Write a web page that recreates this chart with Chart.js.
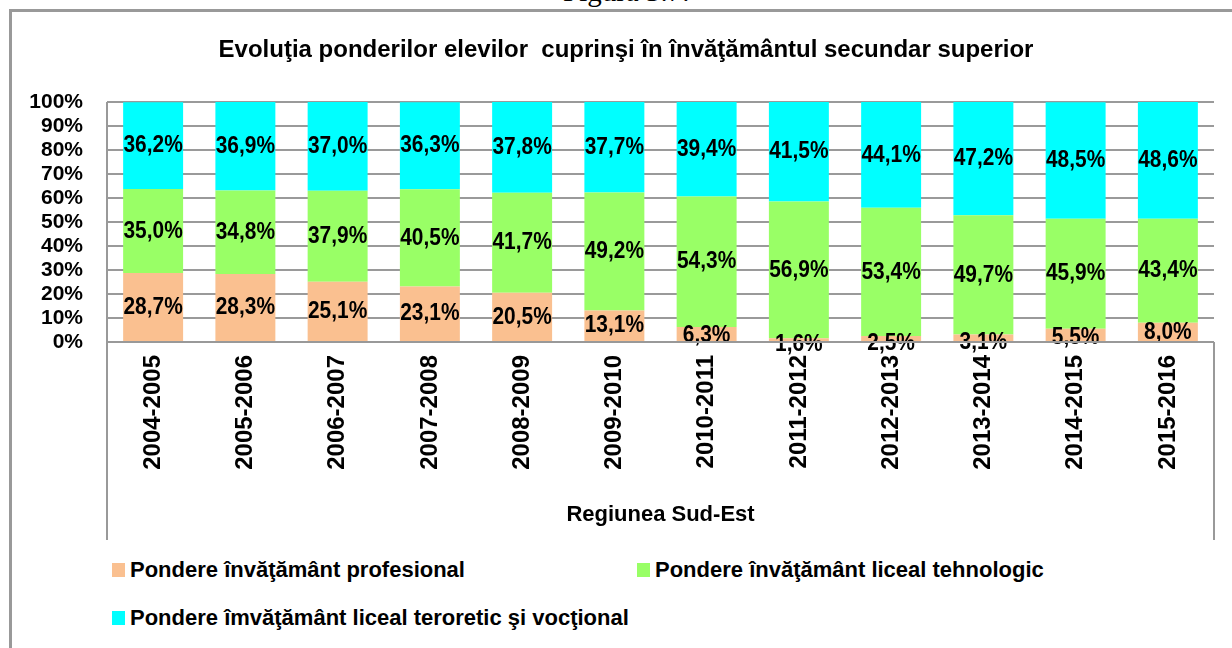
<!DOCTYPE html>
<html><head><meta charset="utf-8">
<script src="https://cdn.jsdelivr.net/npm/chart.js@4/dist/chart.umd.min.js"></script>
<style>
html,body{margin:0;padding:0;background:#fff;width:1232px;height:648px;overflow:hidden;font-family:"Liberation Sans",Arial,sans-serif;}
#frame{position:absolute;left:9px;top:9px;width:1300px;height:700px;border-top:3px solid #999;border-left:3px solid #999;}
#fig{position:absolute;left:563px;top:-25px;font:29px "Liberation Serif",serif;color:#000;white-space:nowrap;}
#wrap{position:absolute;left:0;top:0;width:1232px;height:540px;}
.leg{position:absolute;font:bold 22px "Liberation Sans",Arial,sans-serif;color:#000;display:flex;align-items:center;white-space:nowrap;}
.sw{width:13px;height:14px;margin-right:5px;}
</style></head>
<body>
<div id="fig">Figura 3.7.</div>
<div id="frame"></div>
<div id="wrap"><canvas id="c" width="1232" height="540"></canvas></div>
<div id="legend"></div>
<script>
const categories = ["2004-2005","2005-2006","2006-2007","2007-2008","2008-2009","2009-2010","2010-2011","2011-2012","2012-2013","2013-2014","2014-2015","2015-2016"];
const profesional = [28.7,28.3,25.1,23.1,20.5,13.1,6.3,1.6,2.5,3.1,5.5,8.0];
const tehnologic  = [35.0,34.8,37.9,40.5,41.7,49.2,54.3,56.9,53.4,49.7,45.9,43.4];
const teoretic    = [36.2,36.9,37.0,36.3,37.8,37.7,39.4,41.5,44.1,47.2,48.5,48.6];
const seriesNames = ["Pondere învăţământ profesional","Pondere învăţământ liceal tehnologic","Pondere îmvăţământ liceal teroretic şi vocţional"];
const seriesColors = ["#FAC090","#99FF66","#00FFFF"];
const chartTitle = "Evoluţia ponderilor elevilor  cuprinşi în învăţământul secundar superior";
const axisTitle = "Regiunea Sud-Est";

const fmt = v => v.toFixed(1).replace('.', ',') + '%';

const labelPlugin = {
  id: 'labels',
  afterDatasetsDraw(chart) {
    const ctx = chart.ctx;
    ctx.save();
    ctx.font = 'bold 22px "Liberation Sans", Arial, sans-serif';
    ctx.fillStyle = '#000';
    ctx.textAlign = 'center';
    ctx.textBaseline = 'middle';
    chart.data.datasets.forEach((ds, i) => {
      const meta = chart.getDatasetMeta(i);
      meta.data.forEach((bar, j) => {
        const p = bar.getProps(['x','y','base'], true);
        const h = p.base - p.y;
        let cy = (p.y + p.base) / 2 + Math.max(0, (20 - h) * 0.3);
        ctx.save();
        ctx.translate(p.x, cy);
        ctx.scale(0.95, 1.1);
        ctx.fillText(fmt(ds.data[j]), 0, 0);
        ctx.restore();
      });
    });
    ctx.restore();
  },
  afterDraw(chart) {
    const ctx = chart.ctx, a = chart.chartArea;
    ctx.save();
    ctx.strokeStyle = '#999';
    ctx.lineWidth = 2;
    ctx.beginPath();
    ctx.moveTo(a.left, a.top); ctx.lineTo(a.left, 540);
    ctx.moveTo(a.right, a.bottom); ctx.lineTo(a.right, 540);
    ctx.moveTo(a.left, a.bottom); ctx.lineTo(a.right, a.bottom);
    ctx.stroke();
    ctx.font = 'bold 24px "Liberation Sans", Arial, sans-serif';
    ctx.fillStyle = '#000';
    ctx.textAlign = 'center';
    ctx.textBaseline = 'middle';
    ctx.fillText(chartTitle, 626, 50);
    ctx.restore();
  }
};

new Chart(document.getElementById('c'), {
  type: 'bar',
  data: {
    labels: categories,
    datasets: [
      { label: seriesNames[0], data: profesional, backgroundColor: seriesColors[0] },
      { label: seriesNames[1], data: tehnologic, backgroundColor: seriesColors[1] },
      { label: seriesNames[2], data: teoretic, backgroundColor: seriesColors[2] }
    ].map(d => Object.assign(d, { barPercentage: 0.65, categoryPercentage: 1, borderWidth: 0 }))
  },
  options: {
    responsive: false,
    animation: false,
    devicePixelRatio: 1,
    layout: { padding: { left: 0, right: 18, top: 102, bottom: 0 } },
    plugins: {
      legend: { display: false },
      tooltip: { enabled: false },
      title: { display: false }
    },
    scales: {
      x: {
        stacked: true,
        grid: { display: false, drawTicks: false },
        border: { display: false },
        ticks: {
          color: '#000', autoSkip: false, minRotation: 90, maxRotation: 90, padding: 13,
          font: { family: '"Liberation Sans", Arial, sans-serif', size: 24, weight: 'bold' }
        },
        title: {
          display: true, text: axisTitle, color: '#000',
          font: { family: '"Liberation Sans", Arial, sans-serif', size: 22, weight: 'bold' },
          padding: { top: 0, bottom: 12 }
        },
        afterFit: s => { s.height = 198; }
      },
      y: {
        stacked: true, min: 0, max: 100,
        grid: { color: '#9a9a9a', lineWidth: 2, drawTicks: false },
        border: { display: false },
        ticks: {
          stepSize: 10, color: '#000', padding: 24, autoSkip: false,
          callback: v => v + '%',
          font: { family: '"Liberation Sans", Arial, sans-serif', size: 21, weight: 'bold', lineHeight: 1 }
        },
        afterFit: s => { s.width = 107; }
      }
    }
  },
  plugins: [labelPlugin]
});

const legendPos = [[112, 570], [637, 570], [112, 618]];
const lg = document.getElementById('legend');
seriesNames.forEach((n, i) => {
  const d = document.createElement('div');
  d.className = 'leg';
  d.style.left = legendPos[i][0] + 'px';
  d.style.top = (legendPos[i][1] - 12) + 'px';
  d.style.height = '24px';
  d.innerHTML = '<span class="sw" style="background:' + seriesColors[i] + '"></span>';
  d.appendChild(document.createTextNode(n));
  lg.appendChild(d);
});
</script>
</body></html>
